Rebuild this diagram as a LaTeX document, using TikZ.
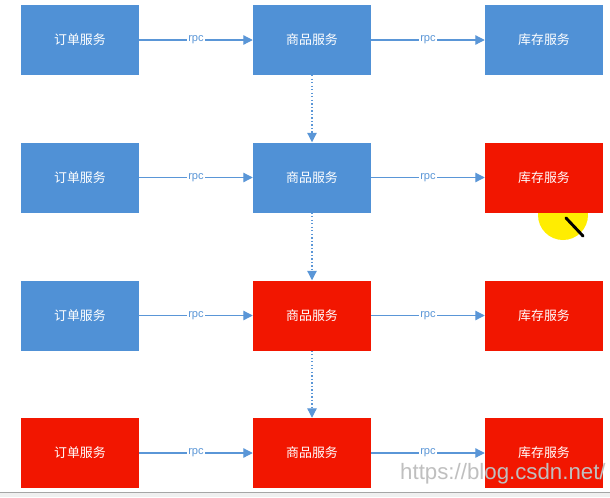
\documentclass[tikz,border=0pt]{standalone}
\usepackage{fontspec}
\newfontfamily\cjk{Noto Sans CJK SC}
\setsansfont{Liberation Sans}
\usetikzlibrary{arrows.meta}
\definecolor{svcblue}{RGB}{80,145,214}
\definecolor{svcred}{RGB}{242,22,0}
\definecolor{linkblue}{RGB}{90,150,215}
\tikzset{
  svc/.style={minimum width=3.54cm,minimum height=2.1cm,inner sep=0pt,
    text=white,font=\cjk\fontsize{11}{13}\selectfont},
  ok/.style={svc,fill=svcblue},
  down/.style={svc,fill=svcred},
  rpc/.style={draw=linkblue,line width=1pt,-{Triangle[length=8pt,width=8pt]}},
  wait/.style={rpc,dotted},
  tag/.style={fill=white,inner sep=1pt,text=linkblue,font=\sffamily\fontsize{9.5}{10}\selectfont}
}
\begin{document}
\begin{tikzpicture}  % ------ Avalanche des services --------------
      [x={(0.03cm,0cm)},y={(0cm,-0.03cm)}]
    \useasboundingbox (0,0) rectangle (610,497);
    % curseur
    \fill[yellow!95!orange] (563,215) circle (25);
    \draw[line width=2.5pt,line cap=round] (566,218) -- (583,236);
    % ligne 1
    \node[ok]   (o1) at (80,40)    {订单服务};
    \node[ok]   (p1) at (312,40)   {商品服务};
    \node[ok]   (s1) at (544,40)   {库存服务};
    % ligne 2
    \node[ok]   (o2) at (80,177.5)  {订单服务};
    \node[ok]   (p2) at (312,177.5) {商品服务};
    \node[down] (s2) at (544,177.5) {库存服务};
    % ligne 3
    \node[ok]   (o3) at (80,315.5)  {订单服务};
    \node[down] (p3) at (312,315.5) {商品服务};
    \node[down] (s3) at (544,315.5) {库存服务};
    % ligne 4
    \node[down] (o4) at (80,453)  {订单服务};
    \node[down] (p4) at (312,453) {商品服务};
    \node[down] (s4) at (544,453) {库存服务};
    \foreach \r in {1,2,3,4}{
      \draw[rpc] (o\r) -- node[tag] {rpc} (p\r);
      \draw[rpc] (p\r) -- node[tag] {rpc} (s\r);
    }
    \draw[wait] (p1) -- (p2);
    \draw[wait] (p2) -- (p3);
    \draw[wait] (p3) -- (p4);
    % bas de la capture
    \fill[black!6] (0,492) rectangle (610,497);
    \draw[black!35,line width=0.8pt] (0,492) -- (610,492);
    \node[anchor=south west,inner sep=0pt,text=black!25,font=\sffamily\fontsize{19}{21}\selectfont]
      (url) at (400,484) {https://blog.csdn.net/};
\end{tikzpicture}
\end{document}
